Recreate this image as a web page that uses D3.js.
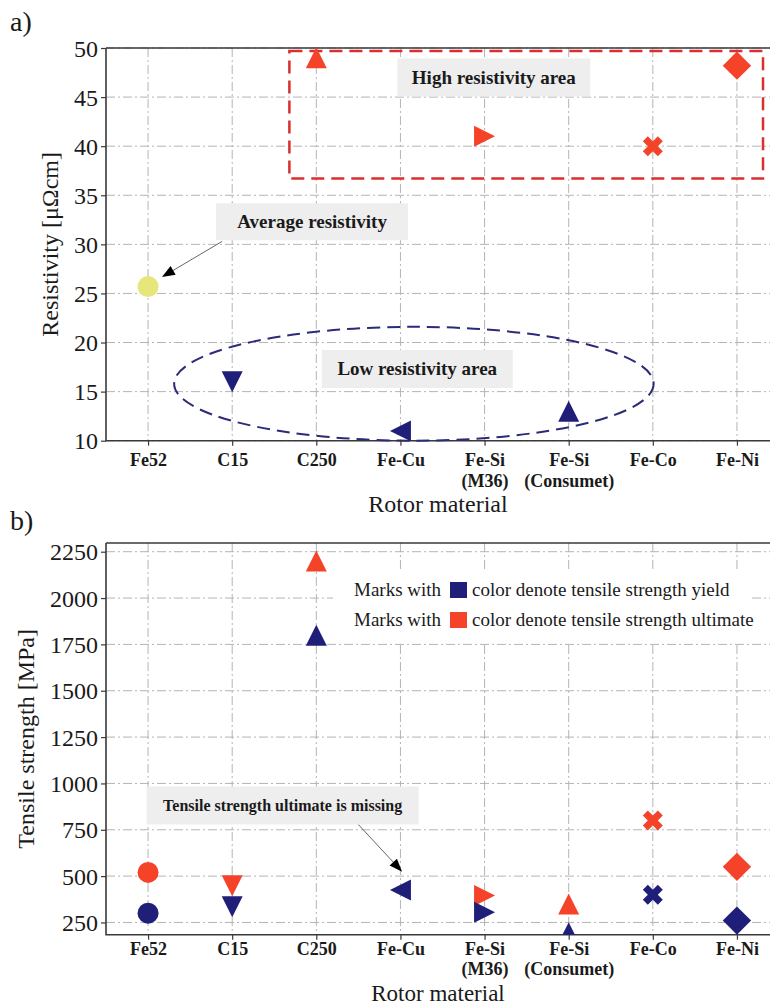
<!DOCTYPE html>
<html>
<head>
<meta charset="utf-8">
<script src="https://cdn.jsdelivr.net/npm/d3@7"></script>
<style>
  body { margin: 0; background: #fff; }
  svg { display: block; }
  text { font-family: "Liberation Serif", "Times New Roman", "DejaVu Serif", serif; }
</style>
</head>
<body>
<svg id="fig" width="770" height="1007"></svg>
<script>
// ---- data ----
const materials = ["Fe52", "C15", "C250", "Fe-Cu", "Fe-Si\n(M36)", "Fe-Si\n(Consumet)", "Fe-Co", "Fe-Ni"];
const markerShapes = ["circle", "triangleDown", "triangleUp", "triangleLeft", "triangleRight", "triangleUp", "x", "diamond"];
const resistivity = [25.7, 16.0, 49.0, 11.0, 41.0, 13.0, 40.0, 48.2];
const resistivityGroup = ["average", "low", "high", "low", "high", "low", "high", "high"];
const yieldStrength = [300, 335, 1800, 425, 305, 195, 400, 260];
const ultimateStrength = [520, 448, 2200, null, 395, 350, 800, 550];
const resistivityTicks = [10, 15, 20, 25, 30, 35, 40, 45, 50];
const strengthTicks = [250, 500, 750, 1000, 1250, 1500, 1750, 2000, 2250];
const legendLabels = ["color denote tensile strength yield", "color denote tensile strength ultimate"];

// ---- styling ----
const NAVY = "#1f1f7a", RED = "#f5432a", YELLOW = "#e6e67c";
const groupColor = { average: YELLOW, low: NAVY, high: RED };
const GRID = "#b4b4b4", SPINE = "#3a3a3a", INK = "#1a1a1a";
const SERIF = '"Liberation Serif", "Times New Roman", serif';

const svg = d3.select("#fig");

function markerPath(shape, s) {
  const h = s / 2;
  switch (shape) {
    case "circle": return d3.symbol(d3.symbolCircle, Math.PI * h * h)();
    case "triangleUp": return `M0,${-h}L${h},${h}L${-h},${h}Z`;
    case "triangleDown": return `M0,${h}L${h},${-h}L${-h},${-h}Z`;
    case "triangleLeft": return `M${-h},0L${h},${-h}L${h},${h}Z`;
    case "triangleRight": return `M${h},0L${-h},${-h}L${-h},${h}Z`;
    case "diamond": { const d = h * 1.35; return `M0,${-d}L${d},0L0,${d}L${-d},0Z`; }
    case "x": {
      const S = s * 1.06, a = S / 6, L = S / 2;
      const pts = [[-a,-L],[a,-L],[a,-a],[L,-a],[L,a],[a,a],[a,L],[-a,L],[-a,a],[-L,a],[-L,-a],[-a,-a]];
      const c = Math.SQRT1_2;
      return "M" + pts.map(([px, py]) => [(px - py) * c, (px + py) * c].map(v => v.toFixed(2)).join(",")).join("L") + "Z";
    }
  }
}

function arrow(g, x1, y1, x2, y2) {
  const ang = Math.atan2(y2 - y1, x2 - x1);
  const len = 13, hw = 5;
  const bx = x2 - len * Math.cos(ang), by = y2 - len * Math.sin(ang);
  g.append("line").attr("x1", x1).attr("y1", y1).attr("x2", bx).attr("y2", by)
    .attr("stroke", "#666").attr("stroke-width", 1);
  const px = -Math.sin(ang) * hw, py = Math.cos(ang) * hw;
  g.append("path")
    .attr("d", `M${x2},${y2}L${bx + px},${by + py}L${bx - px},${by - py}Z`)
    .attr("fill", "#000");
}

function annotationBox(g, cx, cy, text, size, w, h) {
  g.append("rect").attr("x", cx - w / 2).attr("y", cy - h / 2).attr("width", w).attr("height", h)
    .attr("fill", "#eeeeee");
  g.append("text").attr("x", cx).attr("y", cy).attr("dy", "0.33em")
    .attr("text-anchor", "middle").attr("font-weight", "bold").attr("font-size", size + "px")
    .attr("font-family", SERIF).attr("fill", INK).text(text);
}

// Builds one panel frame (grid, spines, axes) and returns the scales.
function panel({ id, top, bottom, yDomain, ticks, yLabel, letter, letterY, titleY, titleSize, labelX, xPad, lineGap }) {
  const left = 106, right = 779;
  const x = d3.scalePoint().domain(materials).range([left, right]).padding(0.5);
  const y = d3.scaleLinear().domain(yDomain).range([bottom, top]);
  const xi = i => x(materials[0]) + i * x.step();
  const g = svg.append("g");

  g.append("defs").append("clipPath").attr("id", id)
    .append("rect").attr("x", left).attr("y", top).attr("width", right - left).attr("height", bottom - top);

  // grid
  const grid = g.append("g").attr("stroke", GRID).attr("stroke-width", 1).attr("stroke-dasharray", "9,3,2,3");
  grid.selectAll(".h").data(ticks).join("line")
    .attr("x1", left).attr("x2", right).attr("y1", d => y(d)).attr("y2", d => y(d));
  grid.selectAll(".v").data(materials).join("line")
    .attr("x1", d => x(d)).attr("x2", d => x(d)).attr("y1", top).attr("y2", bottom);

  // axes
  const ya = g.append("g").attr("transform", `translate(${left},0)`)
    .call(d3.axisLeft(y).tickValues(ticks).tickFormat(d3.format("d")).tickSize(5).tickPadding(3))
    .attr("font-family", SERIF);
  ya.select(".domain").remove();
  ya.selectAll("line").attr("stroke", SPINE).attr("stroke-width", 1.2);
  ya.selectAll("text").attr("font-size", "24px").attr("fill", INK).attr("dy", "0.34em");

  const xa = g.append("g").attr("transform", `translate(0,${bottom})`)
    .call(d3.axisBottom(x).tickSize(5).tickPadding(xPad))
    .attr("font-family", SERIF);
  xa.select(".domain").remove();
  xa.selectAll("line").attr("stroke", SPINE).attr("stroke-width", 1.2);
  xa.selectAll("text").attr("font-size", "18px").attr("font-weight", "bold").attr("fill", INK)
    .each(function (d) {
      const t = d3.select(this);
      const lines = d.split("\n");
      t.text(null);
      lines.forEach((ln, k) => t.append("tspan").attr("x", 0).attr("dy", k === 0 ? "0.71em" : lineGap).text(ln));
    });

  // spines
  g.append("path").attr("d", `M${left},${top}H${right}M${left},${top}V${bottom}H${right}`)
    .attr("fill", "none").attr("stroke", SPINE).attr("stroke-width", 1.6);

  // labels
  g.append("text").attr("transform", `translate(${labelX},${(top + bottom) / 2}) rotate(-90)`)
    .attr("text-anchor", "middle").attr("font-size", "24px").attr("font-family", SERIF).attr("fill", INK).text(yLabel);
  g.append("text").attr("x", 438).attr("y", titleY).attr("text-anchor", "middle")
    .attr("font-size", titleSize + "px").attr("font-family", SERIF).attr("fill", INK).text("Rotor material");
  g.append("text").attr("x", 10).attr("y", letterY).attr("font-size", "28px").attr("font-family", SERIF)
    .attr("fill", INK).text(letter);

  return { g, x, y, xi, top, bottom, left, right };
}

// ---- panel a: resistivity ----
const A = panel({ id: "clipA", top: 48, bottom: 440.7, yDomain: [10, 50], ticks: resistivityTicks,
  yLabel: "Resistivity [μΩcm]", letter: "a)", letterY: 31, titleY: 512, titleSize: 24, labelX: 58, xPad: 8, lineGap: "1.15em" });

// high resistivity region
A.g.append("rect")
  .attr("x", A.xi(1.68)).attr("y", A.y(49.7))
  .attr("width", A.xi(7.31) - A.xi(1.68)).attr("height", A.y(36.7) - A.y(49.7))
  .attr("fill", "none").attr("stroke", "#d92f2f").attr("stroke-width", 2.5).attr("stroke-dasharray", "13,7");
// low resistivity region
A.g.append("ellipse")
  .attr("cx", A.xi(3.16)).attr("cy", A.y(15.8))
  .attr("rx", A.xi(2.85) - A.xi(0)).attr("ry", A.y(10) - A.y(15.8))
  .attr("fill", "none").attr("stroke", "#2b2b78").attr("stroke-width", 2).attr("stroke-dasharray", "13,7");

annotationBox(A.g, A.xi(4.11), A.y(47.0), "High resistivity area", 19, 193, 38);
annotationBox(A.g, A.xi(1.95), A.y(32.3), "Average resistivity", 19, 192, 37);
annotationBox(A.g, A.xi(3.2), A.y(17.3), "Low resistivity area", 19, 191, 38);
arrow(A.g, A.xi(0.88), A.y(30.3), A.xi(0.165), A.y(26.67));

A.g.append("g").attr("clip-path", "url(#clipA)")
  .selectAll("path").data(materials).join("path")
  .attr("transform", (d, i) => `translate(${A.x(d)},${A.y(resistivity[i])})`)
  .attr("d", (d, i) => markerPath(markerShapes[i], markerShapes[i] === "x" ? 20 : 21))
  .attr("fill", (d, i) => groupColor[resistivityGroup[i]]);

// ---- panel b: tensile strength ----
const B = panel({ id: "clipB", top: 543, bottom: 934.7, yDomain: [184, 2297], ticks: strengthTicks,
  yLabel: "Tensile strength [MPa]", letter: "b)", letterY: 530, titleY: 1001, titleSize: 23, labelX: 34, xPad: 3, lineGap: "1.08em" });

// legend
const lg = B.g.append("g");
lg.append("rect").attr("x", 333).attr("y", 572).attr("width", 419).attr("height", 70).attr("fill", "#fff");
[NAVY, RED].forEach((c, k) => {
  const cy = 590 + k * 30;
  lg.append("text").attr("x", 354).attr("y", cy).attr("dy", "0.33em").attr("font-size", "19px")
    .attr("font-family", SERIF).attr("fill", INK).text("Marks with");
  lg.append("rect").attr("x", 450).attr("y", cy - 8).attr("width", 17).attr("height", 16).attr("fill", c);
  lg.append("text").attr("x", 472).attr("y", cy).attr("dy", "0.33em").attr("font-size", "19px")
    .attr("font-family", SERIF).attr("fill", INK).text(legendLabels[k]);
});

annotationBox(B.g, B.xi(1.6), B.y(881), "Tensile strength ultimate is missing", 16, 272, 38);
arrow(B.g, B.xi(2.5), B.y(778), B.xi(3.02), B.y(524));

const mb = B.g.append("g").attr("clip-path", "url(#clipB)");
const strengthSeries = [
  { values: ultimateStrength, color: RED },
  { values: yieldStrength, color: NAVY }
];
strengthSeries.forEach(s => {
  mb.append("g").selectAll("path")
    .data(materials.map((m, i) => ({ m, i, v: s.values[i] })).filter(d => d.v != null))
    .join("path")
    .attr("transform", d => `translate(${B.x(d.m)},${B.y(d.v)})`)
    .attr("d", d => markerPath(markerShapes[d.i], markerShapes[d.i] === "x" ? 20 : 21))
    .attr("fill", s.color);
});
</script>
</body>
</html>
